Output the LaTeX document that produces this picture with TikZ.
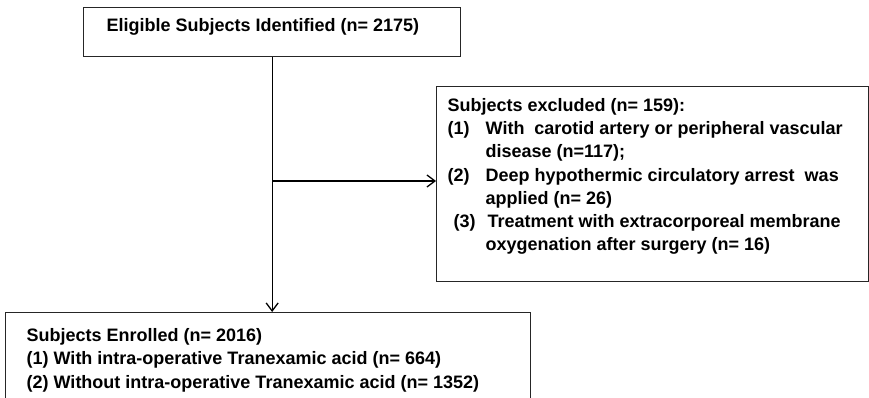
\documentclass[tikz,border=0pt]{standalone}
\usepackage{fontspec}
\setmainfont{Liberation Sans}
\usetikzlibrary{arrows.meta,positioning}

\begin{document}
\begin{tikzpicture}[
                        x=1pt,
                        y=-1pt,
                        >={Straight Barb[length=8pt,width=12pt,line width=1.3pt]},
                        line width=1.3pt,
                        font=\fontsize{18}{23.3}\selectfont\bfseries
                    ]
                    \tikzstyle{frame}=[draw=black!85,inner sep=0pt,anchor=north west]
                    \tikzstyle{words}=[inner sep=0pt,align=left]

                    \useasboundingbox (0,0) rectangle (869,398);

                    % boxes
                    \node[frame,minimum width=377pt,minimum height=49pt]  (ident) at (83,7)   {} ;
                    \node[frame,minimum width=432pt,minimum height=195pt] (excl)  at (436,86) {} ;
                    \node[frame,minimum width=525pt,minimum height=100pt] (enrol) at (5,312)  {} ;

                    % texts
                    \node[words] (identtext) [below right=10.5pt and 23pt of ident.north west]
                        {Eligible Subjects Identified (n= 2175)} ;
                    \node[words] (excltext)  [below right=11.5pt and 11pt of excl.north west]
                        {Subjects excluded (n= 159):\\
                         \makebox[38pt][l]{(1)}With\ \ carotid artery or peripheral vascular\\
                         \hspace*{38pt}disease (n=117);\\
                         \makebox[38pt][l]{(2)}Deep hypothermic circulatory arrest\ \ was\\
                         \hspace*{38pt}applied (n= 26)\\
                         \hspace*{6pt}\makebox[34pt][l]{(3)}Treatment with extracorporeal membrane\\
                         \hspace*{38pt}oxygenation after surgery (n= 16)} ;
                    \node[words] (enroltext) [below right=16pt and 21pt of enrol.north west]
                        {Subjects Enrolled (n= 2016)\\
                         (1) With intra-operative Tranexamic acid (n= 664)\\
                         (2) Without intra-operative Tranexamic acid (n= 1352)} ;

                    \coordinate (split) at (ident.south |- 0,181) ;

                    \draw[->] (ident.south) -- (ident.south |- enrol.north) ;
                    \draw[->] (split) -- (split -| excl.west) ;

                \end{tikzpicture}
\end{document}
